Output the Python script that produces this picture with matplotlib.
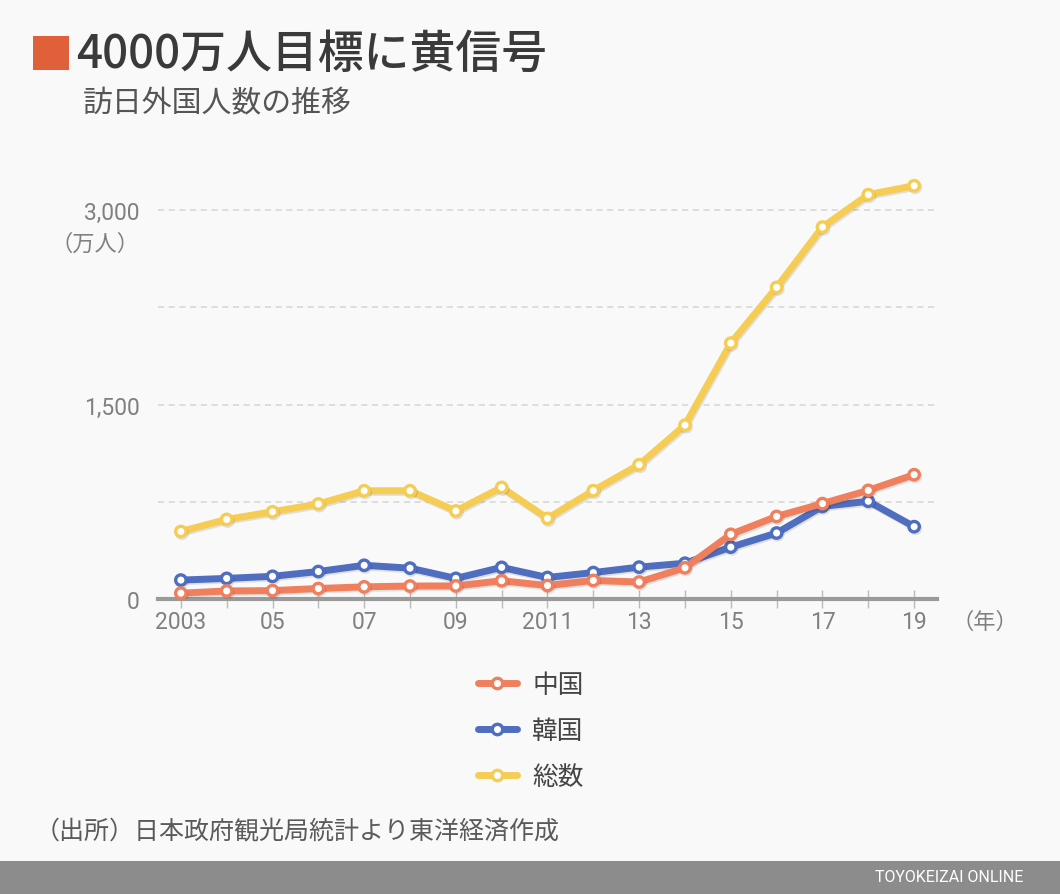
import matplotlib
matplotlib.use("Agg")
import matplotlib.pyplot as plt
from matplotlib.lines import Line2D
from matplotlib.patches import Rectangle
import matplotlib.patheffects as pe

plt.rcParams['font.family'] = ['Noto Sans CJK JP', 'DejaVu Sans']

years = list(range(2003, 2020))
china = [45, 62, 65, 81, 94, 100, 101, 141, 104, 143, 131, 241, 499, 637, 736, 838, 959]
korea = [146, 159, 175, 212, 260, 238, 159, 244, 166, 204, 246, 276, 400, 509, 714, 754, 558]
total = [521, 614, 673, 733, 835, 835, 679, 861, 622, 836, 1036, 1341, 1974, 2404, 2869, 3119, 3188]
series_labels = ['中国', '韓国', '総数']
xtick_labels = ['2003', '05', '07', '09', '2011', '13', '15', '17', '19']
ytick_vals = [0, 1500, 3000]
ytick_labels = ['0', '1,500', '3,000']
grid_vals = [750, 1500, 2250, 3000]

bg = '#F9F9F9'
c_china = '#F07F5E'
c_korea = '#4F6EBF'
c_total = '#F5CD55'

fig = plt.figure(figsize=(10.6, 8.95), dpi=100, facecolor=bg)
ax = fig.add_axes([0.149, 0.3296, 0.735, 0.478])
ax.set_facecolor(bg)
ax.set_xlim(2002.5, 2019.5)
ax.set_ylim(0, 3300)

for g in grid_vals:
    ax.axhline(g, color='#D5D5D5', lw=1.1, ls=(0, (4, 3)), zorder=1)

shadow = [pe.SimpleLineShadow(offset=(0.8, -1.2), shadow_color='#000000', alpha=0.10), pe.Normal()]

def draw(vals, col, z):
    ax.plot(years, vals, color=col, lw=5, zorder=z, solid_capstyle='round',
            marker='o', ms=7.5, mfc='white', mec=col, mew=2.4, path_effects=shadow)

draw(korea, c_korea, 3)
draw(china, c_china, 4)
draw(total, c_total, 5)

for s in ['top', 'right', 'left']:
    ax.spines[s].set_visible(False)
ax.spines['bottom'].set_color('#9A9A9A')
ax.spines['bottom'].set_linewidth(3)
ax.spines['bottom'].set_zorder(2)

ax.set_xticks(years)
ax.set_xticklabels([xtick_labels[(y - 2003) // 2] if (y - 2003) % 2 == 0 else '' for y in years])
ax.tick_params(axis='x', direction='inout', length=13, width=1, color='#BBBBBB',
               labelsize=16.5, labelcolor='#808080', pad=1.5)
for lab in ax.get_xticklabels():
    lab.set_family(['Roboto', 'DejaVu Sans'])
ax.set_yticks(ytick_vals)
ax.set_yticklabels(ytick_labels)
ax.tick_params(axis='y', length=0, labelsize=16.5, labelcolor='#808080', pad=13)
for lab in ax.get_yticklabels():
    lab.set_family(['Roboto', 'DejaVu Sans'])

# title
fig.patches.append(Rectangle((33 / 1060, 1 - 71 / 895), 36 / 1060, 34 / 895,
                             transform=fig.transFigure, facecolor='#E0603A', edgecolor='none'))
fig.text(76 / 1060, 1 - 54 / 895, '4000万人目標に黄信号', fontsize=33, color='#3A3A3A',
         fontweight='medium', va='center', ha='left')
fig.text(83 / 1060, 1 - 104 / 895, '訪日外国人数の推移', fontsize=21.5, color='#555555',
         va='center', ha='left')
fig.text(140 / 1060, 1 - 244 / 895, '（万人）', fontsize=16, color='#808080',
         va='center', ha='right')
fig.text(1018 / 1060, 1 - 622 / 895, '（年）', fontsize=16, color='#808080',
         va='center', ha='right')

handles = [Line2D([], [], color=c, lw=5, marker='o', ms=7.5, mfc='white', mec=c, mew=2.4,
                  solid_capstyle='round') for c in (c_china, c_korea, c_total)]
leg = fig.legend(handles, series_labels, loc='upper left',
                 bbox_to_anchor=(455 / 1060, 1 - 650 / 895), frameon=False,
                 fontsize=18.5, labelspacing=0.78, handlelength=1.5, handletextpad=0.6,
                 labelcolor='#444444')

fig.text(35 / 1060, 1 - 832 / 895, '（出所）日本政府観光局統計より東洋経済作成', fontsize=18,
         color='#5A5A5A', va='center', ha='left')

fig.patches.append(Rectangle((0, 0), 1, 33 / 895, transform=fig.transFigure,
                             facecolor='#8C8C8C', edgecolor='none'))
fig.text(1023 / 1060, 1 - 878 / 895, 'TOYOKEIZAI ONLINE', fontsize=11.5, color='white',
         va='center', ha='right', family=['Roboto', 'DejaVu Sans'])

fig.savefig('out.png', dpi=100, facecolor=bg)
